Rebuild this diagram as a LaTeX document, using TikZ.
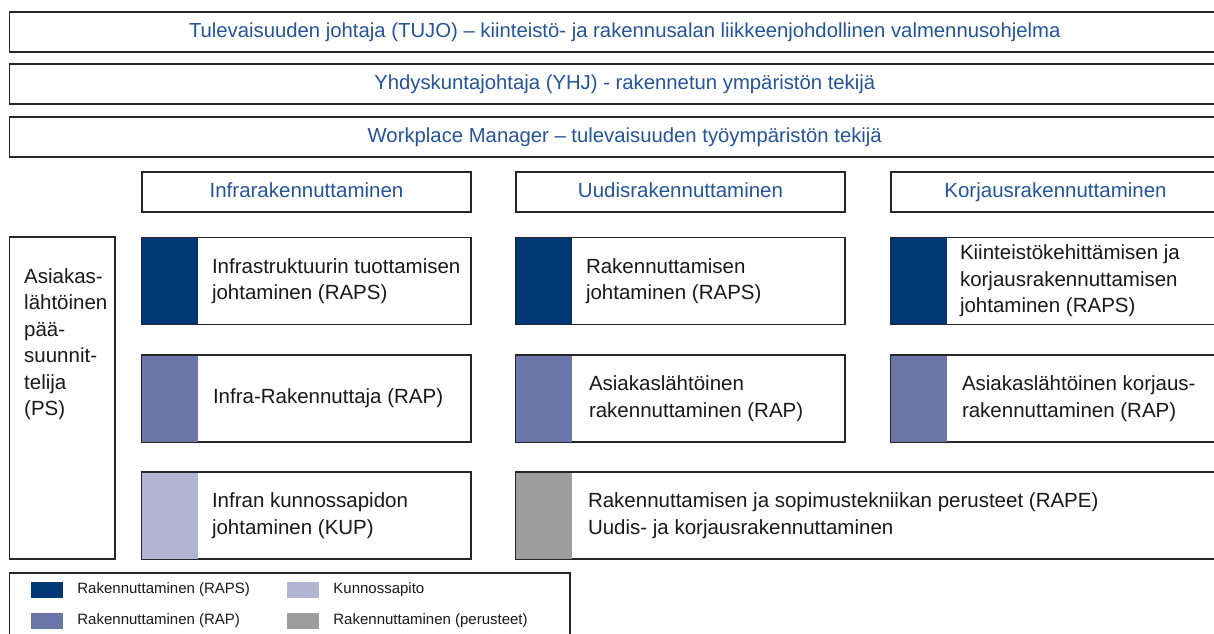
\documentclass[tikz,border=0pt]{standalone}
\usepackage{fontspec}
\setmainfont{Liberation Sans}
\usepackage{tikz}

\definecolor{rapsblue}{RGB}{0,55,117}
\definecolor{rapblue}{RGB}{105,118,167}
\definecolor{kuplilac}{RGB}{177,181,211}
\definecolor{pegray}{RGB}{157,157,157}
\definecolor{headblue}{RGB}{38,84,152}

\begin{document}
\begin{tikzpicture}[
            x=1pt, y=-1pt,
            frame/.style={draw=black!85, line width=1.2pt, fill=white, inner sep=0pt},
            top box/.style={frame, minimum width=1230pt, minimum height=40pt, text=headblue, text height=15pt, text depth=4pt, font=\fontsize{20.3}{26}\selectfont},
            head box/.style={frame, minimum width=329pt, minimum height=40pt, text=headblue, text height=15pt, text depth=4pt, font=\fontsize{20.5}{26}\selectfont},
            course box/.style={frame, minimum width=329pt, minimum height=87pt},
            bar/.style={fill=#1, draw=none, minimum width=56pt, minimum height=86pt, inner sep=0pt, anchor=west},
            course text/.style={anchor=west, align=left, inner sep=0pt, text=black!90, font=\fontsize{20.5}{26.5}\selectfont},
            swatch/.style={fill=#1, draw=none, minimum width=32pt, minimum height=16pt, inner sep=0pt},
            key text/.style={anchor=west, inner sep=0pt, text=black!90, font=\fontsize{15}{17}\selectfont},
            ]
            \useasboundingbox (0,0) rectangle (1214,633);
            \clip (0,0) rectangle (1214,633);

            \node[top box] (tujo) at (624.75,32) {Tulevaisuuden johtaja (TUJO) – kiinteistö- ja rakennusalan liikkeenjohdollinen valmennusohjelma};
            \node[top box] (yhj) at (624.75,84) {Yhdyskuntajohtaja (YHJ) - rakennetun ympäristön tekijä};
            \node[top box] (wpm) at (624.75,137) {Workplace Manager – tulevaisuuden työympäristön tekijä};

            \node[head box] (infra) at (306.5,192) {Infrarakennuttaminen};
            \node[head box] (uudis) at (680.5,192) {Uudisrakennuttaminen};
            \node[head box] (korjaus) at (1055.5,192) {Korjausrakennuttaminen};

            \node[frame, minimum width=105.5pt, minimum height=322pt] (ps) at (62.25,398) {};
            \node[course text, anchor=north west] (pstext) at (24,268) {Asiakas-\\lähtöinen\\pää-\\suunnit-\\telija\\(PS)};

            \node[course box] (infra1) at (306.5,281) {};
            \node[course box] (uudis1) at (680.5,281) {};
            \node[course box] (korjaus1) at (1055.5,281) {};
            \node[course box] (infra2) at (306.5,398.5) {};
            \node[course box] (uudis2) at (680.5,398.5) {};
            \node[course box] (korjaus2) at (1055.5,398.5) {};
            \node[course box] (infra3) at (306.5,515.5) {};
            \node[course box, minimum width=724pt] (rape) at (878,515.5) {};

            \node[bar=rapsblue] (b11) at (infra1.west) {};
            \node[bar=rapsblue] (b12) at (uudis1.west) {};
            \node[bar=rapsblue] (b13) at (korjaus1.west) {};
            \node[bar=rapblue] (b21) at (infra2.west) {};
            \node[bar=rapblue] (b22) at (uudis2.west) {};
            \node[bar=rapblue] (b23) at (korjaus2.west) {};
            \node[bar=kuplilac] (b31) at (infra3.west) {};
            \node[bar=pegray] (b32) at (rape.west) {};

            \node[course text] at ([xshift=14pt]b11.east) {Infrastruktuurin tuottamisen\\johtaminen (RAPS)};
            \node[course text] at ([xshift=14pt]b12.east) {Rakennuttamisen\\johtaminen (RAPS)};
            \node[course text] at ([xshift=13pt]b13.east) {Kiinteistökehittämisen ja\\korjausrakennuttamisen\\johtaminen (RAPS)};
            \node[course text] at ([xshift=15pt]b21.east) {Infra-Rakennuttaja (RAP)};
            \node[course text] at ([xshift=17pt]b22.east) {Asiakaslähtöinen\\rakennuttaminen (RAP)};
            \node[course text] at ([xshift=15pt]b23.east) {Asiakaslähtöinen korjaus-\\rakennuttaminen (RAP)};
            \node[course text] at ([xshift=14pt]b31.east) {Infran kunnossapidon\\johtaminen (KUP)};
            \node[course text] at ([xshift=16pt]b32.east) {Rakennuttamisen ja sopimustekniikan perusteet (RAPE)\\Uudis- ja korjausrakennuttaminen};

            \node[frame, minimum width=560.5pt, minimum height=87pt] (legend) at (289.75,616.5) {};
            \node[swatch=rapsblue] (k1) at (47,590) {};
            \node[swatch=rapblue] (k2) at (47,621) {};
            \node[swatch=kuplilac] (k3) at (303,590) {};
            \node[swatch=pegray] (k4) at (303,621) {};
            \node[key text] at ([xshift=14pt]k1.east) {Rakennuttaminen (RAPS)};
            \node[key text] at ([xshift=14pt]k2.east) {Rakennuttaminen (RAP)};
            \node[key text] at ([xshift=14pt]k3.east) {Kunnossapito};
            \node[key text] at ([xshift=14pt]k4.east) {Rakennuttaminen (perusteet)};
        \end{tikzpicture}
\end{document}
